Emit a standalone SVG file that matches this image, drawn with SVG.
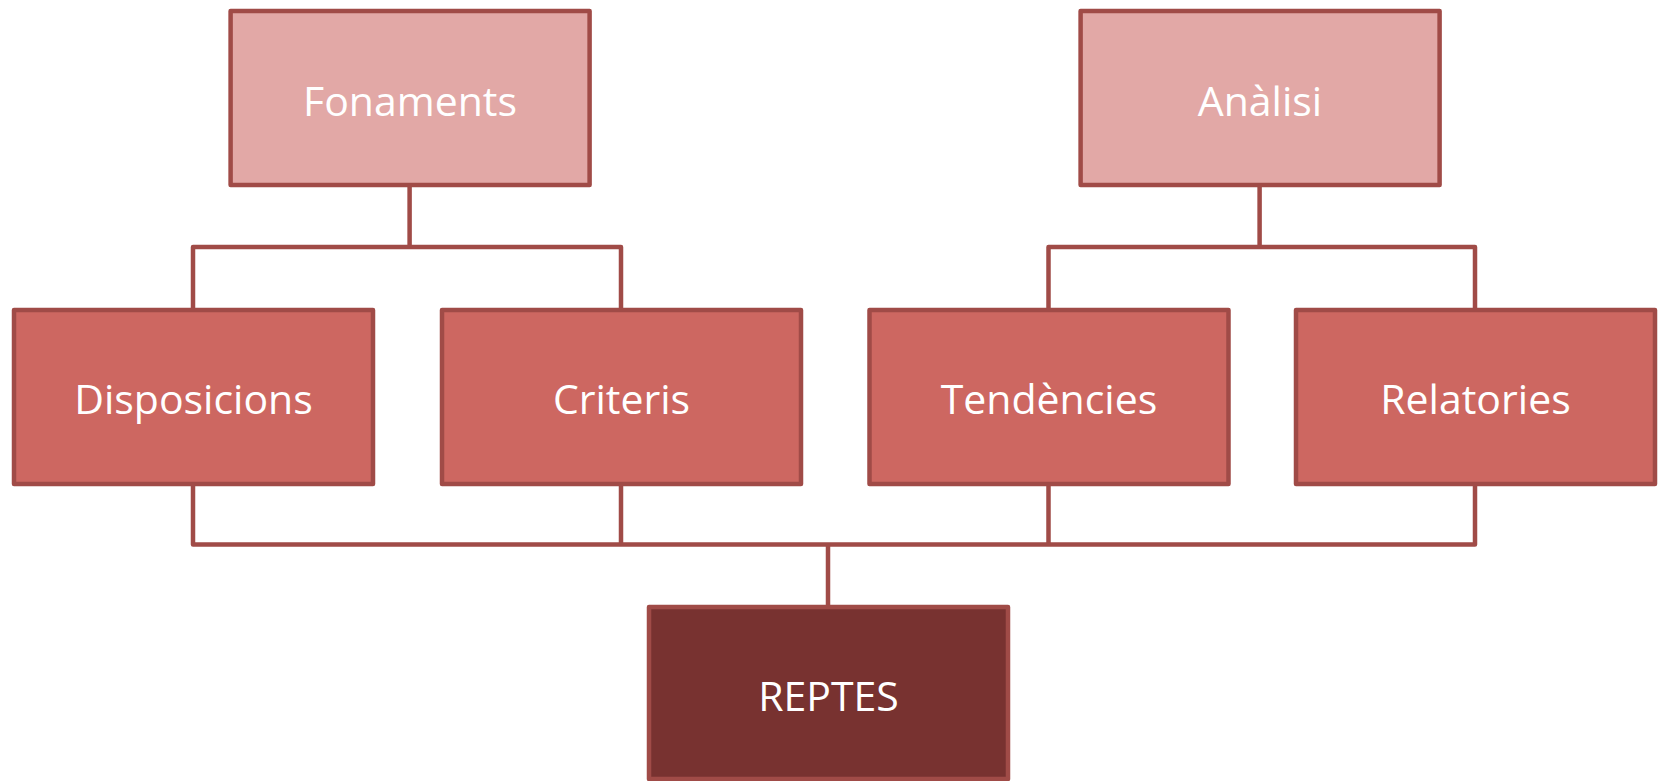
<svg xmlns="http://www.w3.org/2000/svg" width="1664" height="781" viewBox="0 0 1664 781">
<style>
.box{stroke:#A04B47;stroke-width:4.5;stroke-linejoin:round}
.top{fill:#E2A8A6}
.mid{fill:#CD6761}
.bot{fill:#783230}
.lbl{fill:#FFFFFF;font-family:"Open Sans","Noto Sans",sans-serif;font-size:41px;text-anchor:middle}
.con{fill:none;stroke:#A04B47;stroke-width:4.5;stroke-linejoin:round}
</style>
<rect width="1664" height="781" fill="#FFFFFF"/>
<g id="connectors">
<path class="con" d="M193,310 V247 H621 V310 M409.6,187 V247"/>
<path class="con" d="M1048.5,310 V247 H1475 V310 M1259.6,187 V247"/>
<path class="con" d="M193,486 V544.5 H1475 V486 M621,486 V544.5 M1048.5,486 V544.5 M828,544.5 V607"/>
</g>
<g id="node-fonaments">
<rect class="box top" x="230.6" y="11" width="359" height="174"/>
<text class="lbl" x="410" y="116">Fonaments</text>
</g>
<g id="node-analisi">
<rect class="box top" x="1080.6" y="11" width="359" height="174"/>
<text class="lbl" x="1260" y="116">Anàlisi</text>
</g>
<g id="node-disposicions">
<rect class="box mid" x="14" y="310" width="359" height="174"/>
<text class="lbl" x="193.5" y="414">Disposicions</text>
</g>
<g id="node-criteris">
<rect class="box mid" x="442" y="310" width="359" height="174"/>
<text class="lbl" x="621.5" y="414">Criteris</text>
</g>
<g id="node-tendencies">
<rect class="box mid" x="869.5" y="310" width="359" height="174"/>
<text class="lbl" x="1049" y="414">Tendències</text>
</g>
<g id="node-relatories">
<rect class="box mid" x="1296" y="310" width="359" height="174"/>
<text class="lbl" x="1475.5" y="414">Relatories</text>
</g>
<g id="node-reptes">
<rect class="box bot" x="649" y="607" width="359" height="172"/>
<text class="lbl" x="828.5" y="711">REPTES</text>
</g>
</svg>
